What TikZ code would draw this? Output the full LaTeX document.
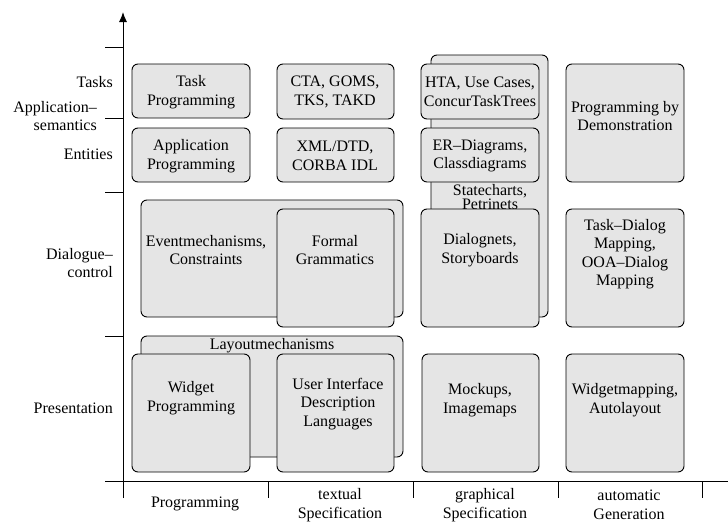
\documentclass[tikz,border=0pt]{standalone}
\usepackage{fontspec}
\setmainfont{Liberation Serif}
\usetikzlibrary{arrows.meta}
\definecolor{boxgray}{RGB}{229,229,229}
\tikzset{
  box/.style={draw=black, fill=boxgray, line width=0.9pt, rounded corners=6pt},
  txt/.style={align=center, inner sep=0pt, font=\fontsize{16}{18.5}\selectfont},
  ylab/.style={align=right, anchor=east, inner sep=0pt, font=\fontsize{16}{18.5}\selectfont},
  axis/.style={line width=1pt},
}
\begin{document}
\begin{tikzpicture}[x=1pt,y=-1pt]
\useasboundingbox (0,0) rectangle (728,522);
% axes
\coordinate (ytop) at (123,12);
\coordinate (ybot) at (123,498);
\coordinate (xl) at (105,481);
\coordinate (xr) at (728,481);
\draw[axis,-{Latex[length=10pt,width=8pt]}] (ybot) -- (ytop);
\draw[axis] (xl) -- (xr);
\foreach \yy [count=\i] in {47,118,192,336}{
  \coordinate (yt\i a) at (105,\yy);
  \coordinate (yt\i b) at (123,\yy);
  \draw[axis] (yt\i a) -- (yt\i b);
}
\foreach \xx [count=\i] in {268,413,558,702}{
  \coordinate (xt\i a) at (\xx,481);
  \coordinate (xt\i b) at (\xx,498);
  \draw[axis] (xt\i a) -- (xt\i b);
}
% axis labels
\node[ylab] (lTasks) at (113,82) {Tasks};
\node[ylab] (lAppSem) at (97,116) {Application–\\semantics};
\node[ylab] (lEnt) at (113,154) {Entities};
\node[ylab] (lDlg) at (113,263) {Dialogue–\\control};
\node[ylab] (lPres) at (113,408) {Presentation};
\node[txt] (lProg) at (195,504) {Programming};
\node[txt] (lText) at (340,505) {textual\\Specification};
\node[txt] (lGraph) at (485,505) {graphical\\Specification};
\node[txt] (lAuto) at (629,505) {automatic\\Generation};
% background boxes
\draw[box] (431,55) rectangle (548,317);
\node[txt, font=\fontsize{16}{14.5}\selectfont] (tState) at (490,197) {Statecharts,\\Petrinets};
\draw[box] (141,200) rectangle (403,317);
\node[txt] (tEvent) at (206,250) {Eventmechanisms,\\Constraints};
\draw[box] (141,336) rectangle (403,457);
\node[txt] (tLayout) at (272,346) {Layoutmechanisms};
% front boxes
\draw[box] (132,64) rectangle (250,118);
\node[txt] (tTaskProg) at (191,92) {Task\\Programming};
\draw[box] (132,128) rectangle (250,182);
\node[txt] (tAppProg) at (191,156) {Application\\Programming};
\draw[box] (277,64) rectangle (394,119);
\node[txt] (tCTA) at (335,92) {CTA, GOMS,\\TKS, TAKD};
\draw[box] (277,128) rectangle (394,182);
\node[txt] (tXML) at (335,156) {XML/DTD,\\CORBA IDL};
\draw[box] (421,64) rectangle (539,119);
\node[txt] (tHTA) at (480,92) {HTA, Use Cases,\\ConcurTaskTrees};
\draw[box] (421,128) rectangle (539,182);
\node[txt] (tER) at (480,156) {ER–Diagrams,\\Classdiagrams};
\draw[box] (277,209) rectangle (394,327);
\node[txt] (tFormal) at (335,250) {Formal\\Grammatics};
\draw[box] (421,209) rectangle (539,327);
\node[txt] (tDialog) at (480,250) {Dialognets,\\Storyboards};
\draw[box] (566,64) rectangle (684,182);
\node[txt] (tPBD) at (625,116) {Programming by\\Demonstration};
\draw[box] (566,209) rectangle (684,327);
\node[txt] (tTD) at (625,254) {Task–Dialog\\Mapping,\\OOA–Dialog\\Mapping};
\draw[box] (132,354) rectangle (250,472);
\node[txt] (tWidget) at (191,398) {Widget\\Programming};
\draw[box] (277,354) rectangle (394,472);
\node[txt] (tUIDL) at (338,404) {User Interface\\Description\\Languages};
\draw[box] (422,354) rectangle (539,472);
\node[txt] (tMock) at (480,400) {Mockups,\\Imagemaps};
\draw[box] (566,354) rectangle (684,472);
\node[txt] (tWM) at (625,400) {Widgetmapping,\\Autolayout};
\end{tikzpicture}
\end{document}
